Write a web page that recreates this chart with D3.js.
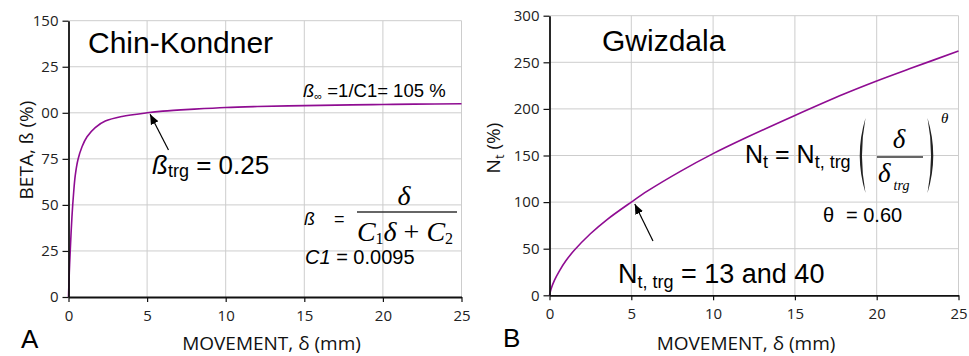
<!DOCTYPE html>
<html><head><meta charset="utf-8">
<script src="https://cdn.jsdelivr.net/npm/d3@7"></script>
<style>
html,body{margin:0;padding:0;background:#fff;}
svg{display:block;}
</style></head>
<body>
<svg id="chart" width="969" height="356"></svg>
<script>
// ---- data ----
const deltaA = [0, 0.05, 0.11, 0.22, 0.33, 0.43, 0.6, 0.86, 1.18, 1.7, 2.34, 3.4, 5, 6, 8, 10, 12, 15, 18, 20, 22, 25];
const betaA  = [0, 13, 25, 43.6, 57, 66, 74.5, 81.6, 87, 92, 95.5, 98, 100, 100.9, 102, 102.9, 103.4, 103.9, 104.3, 104.5, 104.7, 104.9];
const deltaB = [0, 0.1, 0.3, 0.6, 1, 1.5, 2.5, 3.5, 5, 6, 8, 10, 12, 15, 18, 20, 22, 25];
const nB     = [0, 7, 16, 26, 37, 48, 66, 81, 100, 112, 133, 152, 169, 193, 216, 230, 243, 262];
const xTicks = [0, 5, 10, 15, 20, 25];
const xTickLabels = ["0", "5", "10", "15", "20", "25"];
const yTicksA = [0, 25, 50, 75, 100, 125, 150];
const yTickLabelsA = ["0", "25", "50", "75", "00", "25", "150"];
const yTicksB = [0, 50, 100, 150, 200, 250, 300];
const yTickLabelsB = ["0", "50", "100", "150", "200", "250", "300"];
const targetA = [5, 100];
const targetB = [5, 100];

// ---- drawing ----
const svg = d3.select("#chart");
svg.append("rect").attr("width", 969).attr("height", 356).attr("fill", "#fff");

const SANS = "'Liberation Sans', Arial, sans-serif";
const UI = "'Open Sans', 'Noto Sans', sans-serif";
const SERIF = "'Liberation Serif', 'Times New Roman', serif";
const CURVE = "#8f0c92";
const GRID = "#cdcdcd";

const xA = d3.scaleLinear().domain([0, 25]).range([68.5, 461.5]);
const yA = d3.scaleLinear().domain([0, 150]).range([297, 20.7]);
const xB = d3.scaleLinear().domain([0, 25]).range([549.5, 958.5]);
const yB = d3.scaleLinear().domain([0, 300]).range([295.3, 15.7]);

svg.append("defs").append("marker")
  .attr("id", "arr").attr("viewBox", "0 0 10 10").attr("refX", 10).attr("refY", 5)
  .attr("markerWidth", 10).attr("markerHeight", 10).attr("markerUnits", "userSpaceOnUse")
  .attr("orient", "auto")
  .append("path").attr("d", "M0,0.8 L10,5 L0,9.2 Z").attr("fill", "#000");

function panel(x, y, yTicks, yLabels, xs, ys) {
  const g = svg.append("g");
  // grid
  g.selectAll(".vg").data(xTicks.slice(1)).join("line")
    .attr("x1", d => x(d)).attr("x2", d => x(d))
    .attr("y1", y.range()[0]).attr("y2", y.range()[1])
    .attr("stroke", GRID).attr("stroke-width", 1);
  g.selectAll(".hg").data(yTicks.slice(1)).join("line")
    .attr("x1", x.range()[0]).attr("x2", x.range()[1])
    .attr("y1", d => y(d)).attr("y2", d => y(d))
    .attr("stroke", GRID).attr("stroke-width", 1);
  // curve
  const pts = xs.map((d, i) => [d, ys[i]]);
  g.append("path").datum(pts)
    .attr("d", d3.line().x(d => x(d[0])).y(d => y(d[1])).curve(d3.curveCatmullRom.alpha(0.5)))
    .attr("fill", "none").attr("stroke", CURVE).attr("stroke-width", 1.6);
  // axes
  const ya = g.append("g").attr("transform", `translate(${x.range()[0]},0)`)
    .call(d3.axisLeft(y).tickValues(yTicks).tickFormat((d, i) => yLabels[i]).tickSize(6).tickSizeOuter(0).tickPadding(4));
  const xa = g.append("g").attr("transform", `translate(0,${y.range()[0]})`)
    .call(d3.axisBottom(x).tickValues(xTicks).tickFormat((d, i) => xTickLabels[i]).tickSize(5).tickSizeOuter(0).tickPadding(8));
  [ya, xa].forEach(a => {
    a.select(".domain").attr("stroke", "#111").attr("stroke-width", 1.8);
    a.selectAll(".tick line").attr("stroke", "#111").attr("stroke-width", 1.2);
    a.selectAll(".tick text").attr("font-family", UI).attr("font-size", 15).attr("fill", "#222");
  });
  return g;
}

panel(xA, yA, yTicksA, yTickLabelsA, deltaA, betaA);
panel(xB, yB, yTicksB, yTickLabelsB, deltaB, nB);

function txt(x, y, s, size, opts = {}) {
  return svg.append("text").attr("x", x).attr("y", y).text(s)
    .attr("font-family", opts.family || SANS).attr("font-size", size)
    .attr("font-style", opts.style || "normal")
    .attr("text-anchor", opts.anchor || "start").attr("fill", opts.fill || "#000");
}

// axis titles
txt(271.5, 350, "MOVEMENT, δ (mm)", 19, { family: UI, anchor: "middle", fill: "#111" });
txt(746, 350, "MOVEMENT, δ (mm)", 19, { family: UI, anchor: "middle", fill: "#111" });
txt(0, 0, "BETA, ß  (%)", 19, { family: UI, anchor: "middle", fill: "#111" })
  .attr("transform", "translate(33,150) rotate(-90)");
const nl = svg.append("text").attr("transform", "translate(500,148) rotate(-90)")
  .attr("font-family", UI).attr("font-size", 19).attr("text-anchor", "middle").attr("fill", "#111");
nl.append("tspan").text("N");
nl.append("tspan").attr("font-size", 13).attr("dy", 4).text("t");
nl.append("tspan").attr("dy", -4).text(" (%)");

// panel letters and titles
txt(21, 348, "A", 26);
txt(503, 347, "B", 26);
txt(88, 53, "Chin-Kondner", 30);
txt(602, 51, "Gwizdala", 30);

// ---- panel A annotations ----
const binf = svg.append("text").attr("x", 303).attr("y", 97).attr("font-family", SANS).attr("font-size", 18.5);
binf.append("tspan").attr("font-style", "italic").text("ß");
binf.append("tspan").attr("font-size", 11).attr("dy", 3).text("∞");
binf.append("tspan").attr("dy", -3).text(" =1/C1= 105 %");

const btrg = svg.append("text").attr("x", 152).attr("y", 174).attr("font-family", SANS).attr("font-size", 26);
btrg.append("tspan").attr("font-style", "italic").text("ß");
btrg.append("tspan").attr("font-size", 18).attr("dy", 3).text("trg");
btrg.append("tspan").attr("dy", -3).text(" = 0.25");

svg.append("line").attr("x1", 168.5).attr("y1", 150).attr("x2", xA(targetA[0]) + 3).attr("y2", yA(targetA[1]) + 1.5)
  .attr("stroke", "#000").attr("stroke-width", 1.2).attr("marker-end", "url(#arr)");

// formula A
const fb = svg.append("text").attr("x", 304).attr("y", 225).attr("font-family", SANS).attr("font-size", 18);
fb.append("tspan").attr("font-style", "italic").text("ß");
fb.append("tspan").attr("x", 334).text("=");
svg.append("line").attr("x1", 357).attr("x2", 457).attr("y1", 212).attr("y2", 212)
  .attr("stroke", "#333").attr("stroke-width", 1.5);
txt(404, 205, "δ", 28, { family: SERIF, style: "italic", anchor: "middle" });
const den = svg.append("text").attr("x", 405).attr("y", 241).attr("font-family", SERIF)
  .attr("font-style", "italic").attr("font-size", 28).attr("text-anchor", "middle");
den.append("tspan").text("C");
den.append("tspan").attr("font-size", 16).attr("font-style", "normal").attr("dy", 3).text("1");
den.append("tspan").attr("dy", -3).text("δ");
den.append("tspan").attr("font-style", "normal").text(" + ");
den.append("tspan").text("C");
den.append("tspan").attr("font-size", 16).attr("font-style", "normal").attr("dy", 3).text("2");

const c1 = svg.append("text").attr("x", 305).attr("y", 264).attr("font-family", SANS).attr("font-size", 20);
c1.append("tspan").attr("font-style", "italic").text("C1");
c1.append("tspan").text(" = 0.0095");

// ---- panel B annotations ----
const nt = svg.append("text").attr("x", 745).attr("y", 163).attr("font-family", SANS).attr("font-size", 25);
nt.append("tspan").text("N");
nt.append("tspan").attr("font-size", 18).attr("dy", 5).text("t");
nt.append("tspan").attr("dy", -5).text(" = N");
nt.append("tspan").attr("font-size", 18).attr("dy", 5).text("t, trg");

// parentheses
svg.append("path").attr("d", "M865.5,118 Q854,155.5 865.5,193 Q858.5,155.5 865.5,118 Z").attr("fill", "#222");
svg.append("path").attr("d", "M927.5,118 Q939,155.5 927.5,193 Q934.5,155.5 927.5,118 Z").attr("fill", "#222");
svg.append("line").attr("x1", 877).attr("x2", 923).attr("y1", 157).attr("y2", 157)
  .attr("stroke", "#333").attr("stroke-width", 1.5);
txt(899, 148, "δ", 27, { family: SERIF, style: "italic", anchor: "middle" });
const dt = svg.append("text").attr("x", 878).attr("y", 182).attr("font-family", SERIF)
  .attr("font-style", "italic").attr("font-size", 27);
dt.append("tspan").text("δ");
dt.append("tspan").attr("font-size", 14).attr("dx", 3).attr("dy", 8).text("trg");
txt(941, 123, "θ", 15, { family: SERIF, style: "italic" });

const th = svg.append("text").attr("x", 823).attr("y", 222).attr("font-family", SANS).attr("font-size", 20);
th.append("tspan").text("θ");
th.append("tspan").attr("x", 846).text("= 0.60");

const ntt = svg.append("text").attr("x", 618).attr("y", 283).attr("font-family", SANS).attr("font-size", 27);
ntt.append("tspan").text("N");
ntt.append("tspan").attr("font-size", 18).attr("dy", 5).text("t, trg");
ntt.append("tspan").attr("dy", -5).text(" = 13 and 40");

svg.append("line").attr("x1", 653).attr("y1", 241).attr("x2", xB(targetB[0]) + 3.5).attr("y2", yB(targetB[1]) + 2)
  .attr("stroke", "#000").attr("stroke-width", 1.2).attr("marker-end", "url(#arr)");
</script>
</body></html>
